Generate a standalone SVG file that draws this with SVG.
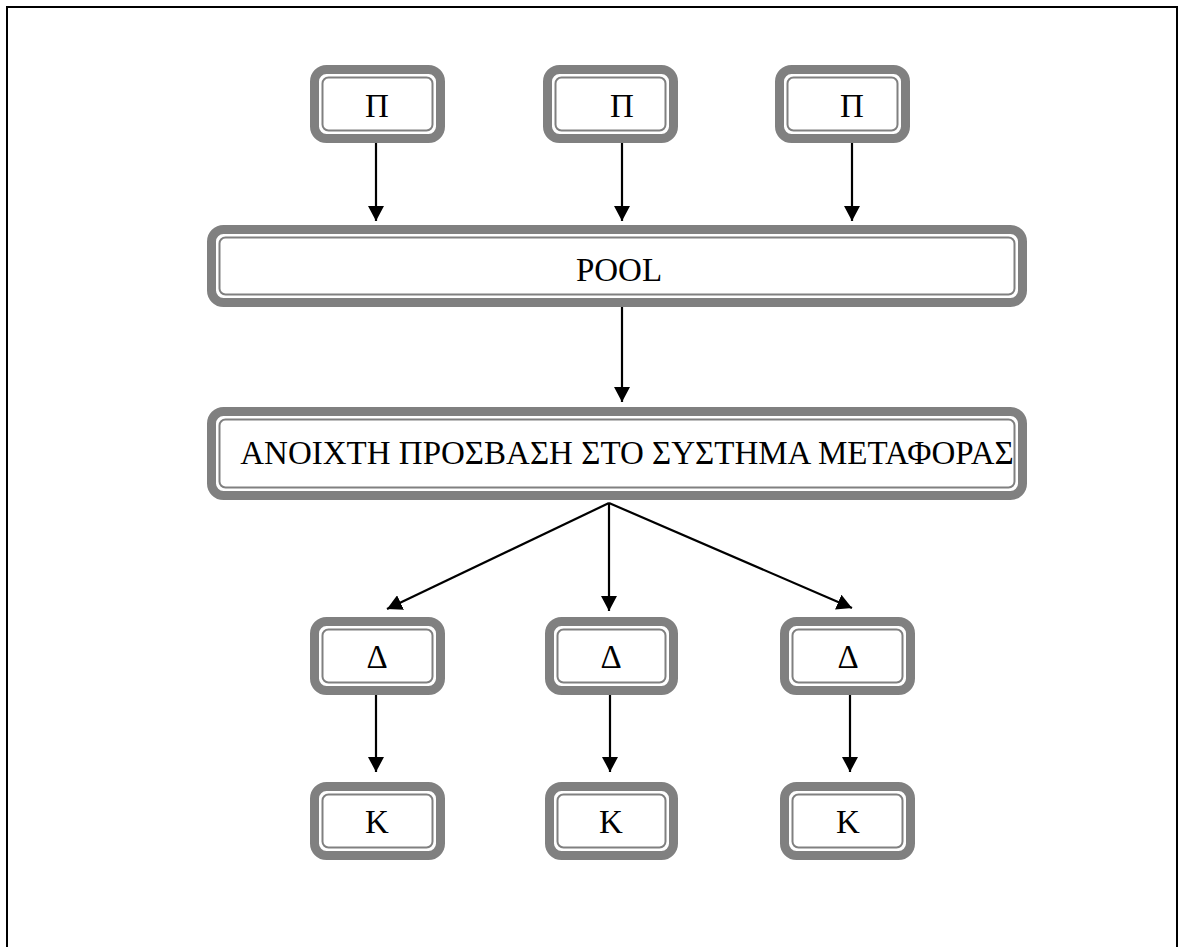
<svg xmlns="http://www.w3.org/2000/svg" width="1184" height="947" viewBox="0 0 1184 947">
  <style>
    .band { fill: none; stroke: #808080; stroke-width: 9; }
    .inner { fill: #ffffff; stroke: #808080; stroke-width: 2; }
    .lbl { font-family: "Liberation Serif", "Times New Roman", serif; font-size: 33px; fill: #000; text-anchor: middle; }
    .conn line { stroke: #000; stroke-width: 2.2; marker-end: url(#arrow); }
  </style>
  <defs>
    <marker id="arrow" markerUnits="userSpaceOnUse" markerWidth="15" markerHeight="16" refX="15" refY="8" orient="auto">
      <path d="M0,0 L15,8 L0,16 z" fill="#000"/>
    </marker>
  </defs>

  <!-- page frame -->
  <rect x="7" y="7" width="1170" height="980" fill="#fff" stroke="#000" stroke-width="2"/>

  <!-- producers -->
  <g id="p1">
    <rect class="band" x="314.5" y="69.5" width="126" height="69" rx="12"/>
    <rect class="inner" x="322.5" y="77.5" width="110" height="53" rx="6"/>
    <text class="lbl" x="377" y="117">Π</text>
  </g>
  <g id="p2">
    <rect class="band" x="547.5" y="69.5" width="126" height="69" rx="12"/>
    <rect class="inner" x="555.5" y="77.5" width="110" height="53" rx="6"/>
    <text class="lbl" x="622" y="117">Π</text>
  </g>
  <g id="p3">
    <rect class="band" x="779.5" y="69.5" width="126" height="69" rx="12"/>
    <rect class="inner" x="787.5" y="77.5" width="110" height="53" rx="6"/>
    <text class="lbl" x="852" y="117">Π</text>
  </g>

  <!-- pool -->
  <g id="pool">
    <rect class="band" x="211.5" y="229.5" width="811" height="73" rx="12"/>
    <rect class="inner" x="219.5" y="237.5" width="795" height="57" rx="6"/>
    <text class="lbl" x="619" y="281">POOL</text>
  </g>

  <!-- open access -->
  <g id="access">
    <rect class="band" x="211.5" y="411.5" width="811" height="84" rx="12"/>
    <rect class="inner" x="219.5" y="419.5" width="795" height="68" rx="6"/>
    <text class="lbl" x="627" y="464">ΑΝΟΙΧΤΗ ΠΡΟΣΒΑΣΗ ΣΤΟ ΣΥΣΤΗΜΑ ΜΕΤΑΦΟΡΑΣ</text>
  </g>

  <!-- distributors -->
  <g id="d1">
    <rect class="band" x="314.5" y="621.5" width="126" height="69" rx="12"/>
    <rect class="inner" x="322.5" y="629.5" width="110" height="53" rx="6"/>
    <text class="lbl" x="377" y="668">Δ</text>
  </g>
  <g id="d2">
    <rect class="band" x="549.5" y="621.5" width="124" height="69" rx="12"/>
    <rect class="inner" x="557.5" y="629.5" width="108" height="53" rx="6"/>
    <text class="lbl" x="611" y="668">Δ</text>
  </g>
  <g id="d3">
    <rect class="band" x="784.5" y="621.5" width="126" height="69" rx="12"/>
    <rect class="inner" x="792.5" y="629.5" width="110" height="53" rx="6"/>
    <text class="lbl" x="848" y="668">Δ</text>
  </g>

  <!-- consumers -->
  <g id="k1">
    <rect class="band" x="314.5" y="786.5" width="126" height="69" rx="12"/>
    <rect class="inner" x="322.5" y="794.5" width="110" height="53" rx="6"/>
    <text class="lbl" x="377" y="833">Κ</text>
  </g>
  <g id="k2">
    <rect class="band" x="549.5" y="786.5" width="124" height="69" rx="12"/>
    <rect class="inner" x="557.5" y="794.5" width="108" height="53" rx="6"/>
    <text class="lbl" x="611" y="833">Κ</text>
  </g>
  <g id="k3">
    <rect class="band" x="784.5" y="786.5" width="126" height="69" rx="12"/>
    <rect class="inner" x="792.5" y="794.5" width="110" height="53" rx="6"/>
    <text class="lbl" x="848" y="833">Κ</text>
  </g>

  <!-- connectors -->
  <g id="connectors" class="conn">
    <line x1="376" y1="143" x2="376" y2="221"/>
    <line x1="622" y1="143" x2="622" y2="221"/>
    <line x1="852" y1="143" x2="852" y2="221"/>
    <line x1="622" y1="307" x2="622" y2="402"/>
    <line x1="609" y1="503" x2="387" y2="609"/>
    <line x1="609" y1="503" x2="609" y2="611"/>
    <line x1="609" y1="503" x2="852" y2="608"/>
    <line x1="376" y1="695" x2="376" y2="772"/>
    <line x1="610" y1="695" x2="610" y2="772"/>
    <line x1="850" y1="695" x2="850" y2="772"/>
  </g>
</svg>
